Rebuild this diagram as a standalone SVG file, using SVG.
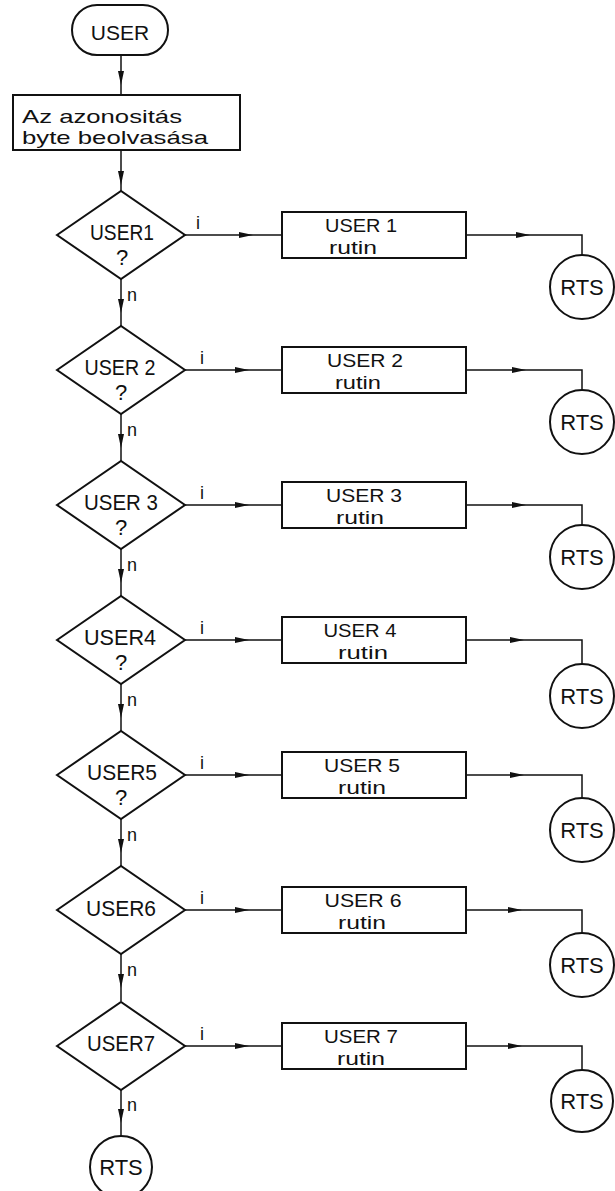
<svg xmlns="http://www.w3.org/2000/svg" width="615" height="1191" viewBox="0 0 615 1191">
  <style>
    .shape { fill: none; stroke: #111; stroke-width: 2; }
    .conn { fill: none; stroke: #111; stroke-width: 1.5; }
    text { font-family: "Liberation Sans", Arial, sans-serif; fill: #111; }
    .big { font-size: 22px; }
    .rt { font-size: 19px; text-anchor: middle; }
    .lbl { font-size: 18px; }
    .mid { text-anchor: middle; }
  </style>
  <defs>
    <marker id="arrow" markerUnits="userSpaceOnUse" markerWidth="14" markerHeight="6" refX="14" refY="3" orient="auto">
      <path d="M0,0 L14,3 L0,6 z" fill="#111"/>
    </marker>
  </defs>
  <rect width="615" height="1191" fill="#fff"/>

  <!-- connectors -->
  <g id="connectors" class="conn">
    <path d="M121,55 V85" marker-end="url(#arrow)"/><path d="M121,85 V95"/>
    <path d="M121,150 V185" marker-end="url(#arrow)"/><path d="M121,185 V191"/>

    <!-- row 1 (cy=235) -->
    <path d="M185,235 H253" marker-end="url(#arrow)"/><path d="M253,235 H282"/>
    <path d="M466,235 H530" marker-end="url(#arrow)"/><path d="M530,235 H582 V255"/>
    <path d="M121,279 V313" marker-end="url(#arrow)"/><path d="M121,313 V326"/>
    <!-- row 2 (cy=370) -->
    <path d="M185,370 H249" marker-end="url(#arrow)"/><path d="M249,370 H282"/>
    <path d="M466,370 H526" marker-end="url(#arrow)"/><path d="M526,370 H582 V390"/>
    <path d="M121,414 V448" marker-end="url(#arrow)"/><path d="M121,448 V461"/>
    <!-- row 3 (cy=505) -->
    <path d="M185,505 H249" marker-end="url(#arrow)"/><path d="M249,505 H282"/>
    <path d="M466,505 H526" marker-end="url(#arrow)"/><path d="M526,505 H582 V525"/>
    <path d="M121,549 V583" marker-end="url(#arrow)"/><path d="M121,583 V596"/>
    <!-- row 4 (cy=640) -->
    <path d="M185,640 H249" marker-end="url(#arrow)"/><path d="M249,640 H282"/>
    <path d="M466,640 H524" marker-end="url(#arrow)"/><path d="M524,640 H582 V664"/>
    <path d="M121,684 V718" marker-end="url(#arrow)"/><path d="M121,718 V731"/>
    <!-- row 5 (cy=775) -->
    <path d="M185,775 H249" marker-end="url(#arrow)"/><path d="M249,775 H282"/>
    <path d="M466,775 H524" marker-end="url(#arrow)"/><path d="M524,775 H582 V798"/>
    <path d="M121,819 V853" marker-end="url(#arrow)"/><path d="M121,853 V866"/>
    <!-- row 6 (cy=910) -->
    <path d="M185,910 H249" marker-end="url(#arrow)"/><path d="M249,910 H282"/>
    <path d="M466,910 H522" marker-end="url(#arrow)"/><path d="M522,910 H582 V933"/>
    <path d="M121,954 V988" marker-end="url(#arrow)"/><path d="M121,988 V1001"/>
    <!-- row 7 (cy=1046) -->
    <path d="M185,1046 H249" marker-end="url(#arrow)"/><path d="M249,1046 H282"/>
    <path d="M466,1046 H522" marker-end="url(#arrow)"/><path d="M522,1046 H582 V1070"/>
    <path d="M121,1090 V1123" marker-end="url(#arrow)"/><path d="M121,1123 V1136"/>
  </g>

  <!-- branch labels -->
  <g id="labels" class="lbl">
    <text x="196" y="229">i</text><text x="127" y="301">n</text>
    <text x="200" y="364">i</text><text x="127" y="436">n</text>
    <text x="200" y="499">i</text><text x="127" y="571">n</text>
    <text x="200" y="634">i</text><text x="127" y="706">n</text>
    <text x="200" y="769">i</text><text x="127" y="841">n</text>
    <text x="200" y="904">i</text><text x="127" y="976">n</text>
    <text x="200" y="1040">i</text><text x="127" y="1111">n</text>
  </g>

  <!-- start terminal -->
  <g id="start">
    <rect class="shape" x="72" y="5" width="96" height="50" rx="25"/>
    <text class="mid" x="120" y="40" font-size="21">USER</text>
  </g>

  <!-- read identification byte -->
  <g id="read">
    <rect class="shape" x="13" y="95" width="227" height="55"/>
    <text x="22" y="123" font-size="19" textLength="160" lengthAdjust="spacingAndGlyphs">Az azonositás</text>
    <text x="22" y="144" font-size="19" textLength="186" lengthAdjust="spacingAndGlyphs">byte beolvasása</text>
  </g>

  <!-- decisions -->
  <g id="q1">
    <polygon class="shape" points="57,235 121,191 185,235 121,279"/>
    <text class="big mid" x="122" y="240" textLength="64" lengthAdjust="spacingAndGlyphs">USER1</text>
    <text class="big mid" x="122" y="265">?</text>
  </g>
  <g id="q2">
    <polygon class="shape" points="57,370 121,326 185,370 121,414"/>
    <text class="big mid" x="120" y="375" textLength="71" lengthAdjust="spacingAndGlyphs">USER 2</text>
    <text class="big mid" x="121" y="400">?</text>
  </g>
  <g id="q3">
    <polygon class="shape" points="57,505 121,461 185,505 121,549"/>
    <text class="big mid" x="121" y="510" textLength="74" lengthAdjust="spacingAndGlyphs">USER 3</text>
    <text class="big mid" x="121" y="535">?</text>
  </g>
  <g id="q4">
    <polygon class="shape" points="57,640 121,596 185,640 121,684"/>
    <text class="big mid" x="120" y="645" textLength="72" lengthAdjust="spacingAndGlyphs">USER4</text>
    <text class="big mid" x="121" y="670">?</text>
  </g>
  <g id="q5">
    <polygon class="shape" points="57,775 121,731 185,775 121,819"/>
    <text class="big mid" x="122" y="780" textLength="70" lengthAdjust="spacingAndGlyphs">USER5</text>
    <text class="big mid" x="121" y="805">?</text>
  </g>
  <g id="q6">
    <polygon class="shape" points="57,910 121,866 185,910 121,954"/>
    <text class="big mid" x="121" y="916" textLength="70" lengthAdjust="spacingAndGlyphs">USER6</text>
  </g>
  <g id="q7">
    <polygon class="shape" points="57,1046 121,1002 185,1046 121,1090"/>
    <text class="big mid" x="121" y="1051" textLength="68" lengthAdjust="spacingAndGlyphs">USER7</text>
  </g>

  <!-- routines -->
  <g id="r1">
    <rect class="shape" x="282" y="212" width="184" height="46"/>
    <text class="rt" x="361" y="232" textLength="72" lengthAdjust="spacingAndGlyphs">USER 1</text>
    <text class="rt" x="353" y="254" textLength="48" lengthAdjust="spacingAndGlyphs">rutin</text>
  </g>
  <g id="r2">
    <rect class="shape" x="282" y="347" width="184" height="46"/>
    <text class="rt" x="365" y="367" textLength="76" lengthAdjust="spacingAndGlyphs">USER 2</text>
    <text class="rt" x="358" y="389" textLength="46" lengthAdjust="spacingAndGlyphs">rutin</text>
  </g>
  <g id="r3">
    <rect class="shape" x="282" y="482" width="184" height="46"/>
    <text class="rt" x="364" y="502" textLength="76" lengthAdjust="spacingAndGlyphs">USER 3</text>
    <text class="rt" x="360" y="524" textLength="48" lengthAdjust="spacingAndGlyphs">rutin</text>
  </g>
  <g id="r4">
    <rect class="shape" x="282" y="617" width="184" height="46"/>
    <text class="rt" x="360" y="637" textLength="73" lengthAdjust="spacingAndGlyphs">USER 4</text>
    <text class="rt" x="363" y="659" textLength="50" lengthAdjust="spacingAndGlyphs">rutin</text>
  </g>
  <g id="r5">
    <rect class="shape" x="282" y="752" width="184" height="46"/>
    <text class="rt" x="362" y="772" textLength="76" lengthAdjust="spacingAndGlyphs">USER 5</text>
    <text class="rt" x="362" y="794" textLength="48" lengthAdjust="spacingAndGlyphs">rutin</text>
  </g>
  <g id="r6">
    <rect class="shape" x="282" y="887" width="184" height="46"/>
    <text class="rt" x="363" y="907" textLength="77" lengthAdjust="spacingAndGlyphs">USER 6</text>
    <text class="rt" x="362" y="929" textLength="48" lengthAdjust="spacingAndGlyphs">rutin</text>
  </g>
  <g id="r7">
    <rect class="shape" x="282" y="1023" width="184" height="46"/>
    <text class="rt" x="361" y="1043" textLength="74" lengthAdjust="spacingAndGlyphs">USER 7</text>
    <text class="rt" x="361" y="1065" textLength="48" lengthAdjust="spacingAndGlyphs">rutin</text>
  </g>

  <!-- returns -->
  <g id="rts1"><circle class="shape" cx="582" cy="287" r="32"/><text class="big mid" x="582" y="295">RTS</text></g>
  <g id="rts2"><circle class="shape" cx="582" cy="422" r="32"/><text class="big mid" x="582" y="430">RTS</text></g>
  <g id="rts3"><circle class="shape" cx="582" cy="557" r="32"/><text class="big mid" x="582" y="565">RTS</text></g>
  <g id="rts4"><circle class="shape" cx="582" cy="696" r="32"/><text class="big mid" x="582" y="704">RTS</text></g>
  <g id="rts5"><circle class="shape" cx="582" cy="830" r="32"/><text class="big mid" x="582" y="838">RTS</text></g>
  <g id="rts6"><circle class="shape" cx="582" cy="965" r="32"/><text class="big mid" x="582" y="973">RTS</text></g>
  <g id="rts7"><circle class="shape" cx="582" cy="1101" r="31"/><text class="big mid" x="582" y="1109">RTS</text></g>
  <g id="rts-end"><circle class="shape" cx="121" cy="1167" r="31"/><text class="big mid" x="121" y="1175">RTS</text></g>
</svg>
